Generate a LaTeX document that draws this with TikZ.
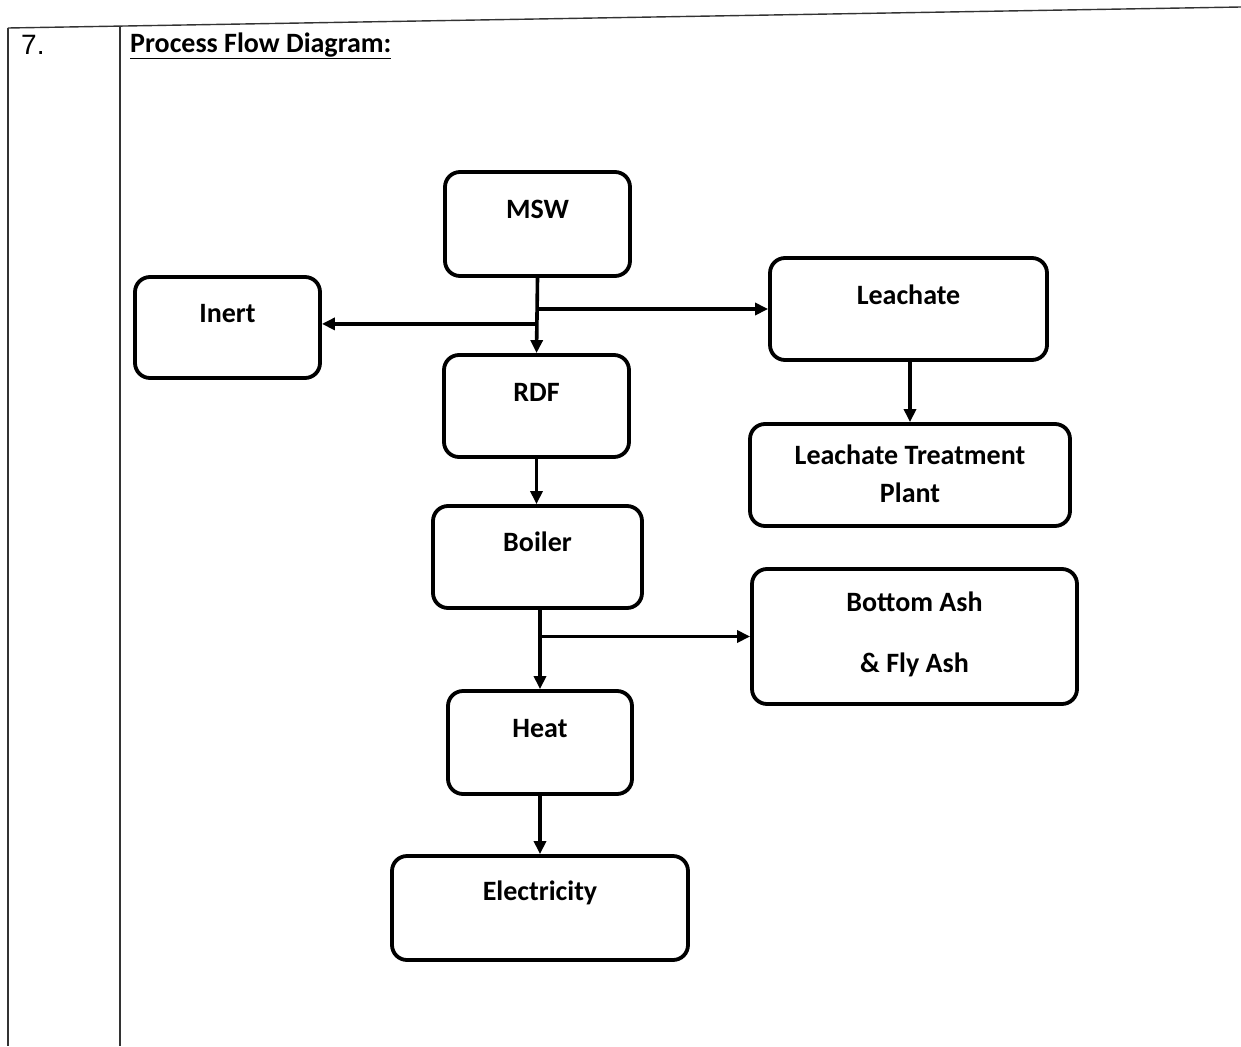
\documentclass[tikz,border=0pt]{standalone}
\usepackage{fontspec}
\setmainfont{Carlito}
\newfontfamily\arialfont{Liberation Sans}
\usetikzlibrary{arrows.meta,calc}
\tikzset{
  pbox/.style={draw=black, line width=3.8pt, rounded corners=15pt, fill=white, inner sep=0pt},
  ptxt/.style={font=\fontsize{28}{33}\selectfont\bfseries, align=center, inner sep=0pt},
  parr/.style={line width=3.6pt, -{Triangle[length=13pt,width=12pt]}},
  frame/.style={line width=1.4pt, black!80},
}
\begin{document}
\begin{tikzpicture}[x=1pt,y=-1pt]
\useasboundingbox (0,0) rectangle (1241,1046);
% table frame
\draw[frame] (8,28) -- (1241,7);
\draw[frame] (8,28) -- (8,1046);
\draw[frame] (120,26) -- (120,1046);
\node[font=\arialfont\fontsize{28}{33}\selectfont, anchor=west, inner sep=0pt] (num) at (21,45) {7.};
\node[font=\fontsize{28}{33}\selectfont\bfseries, anchor=west, inner sep=0pt] (title) at (130,46) {\underline{Process Flow Diagram:}};
% boxes
\node[pbox, minimum width=185, minimum height=104] (msw) at (537.5,224) {};
\node[pbox, minimum width=185, minimum height=101] (inert) at (227.5,327.5) {};
\node[pbox, minimum width=277, minimum height=102] (leach) at (908.5,309) {};
\node[pbox, minimum width=185, minimum height=102] (rdf) at (536.5,406) {};
\node[pbox, minimum width=320, minimum height=102] (ltp) at (910,475) {};
\node[pbox, minimum width=209, minimum height=102] (boiler) at (537.5,557) {};
\node[pbox, minimum width=325, minimum height=135] (ash) at (914.5,636.5) {};
\node[pbox, minimum width=184, minimum height=103] (heat) at (540,742.5) {};
\node[pbox, minimum width=296, minimum height=104] (elec) at (540,908) {};
% texts
\node[ptxt] (tmsw) at ([yshift=-39pt]msw.north) {MSW};
\node[ptxt] (tinert) at ([yshift=-38pt]inert.north) {Inert};
\node[ptxt] (tleach) at ([yshift=-39pt]leach.north) {Leachate};
\node[ptxt] (trdf) at ([yshift=-39pt]rdf.north) {RDF};
\node[ptxt] (tltp1) at ([yshift=-33pt]ltp.north) {Leachate Treatment};
\node[ptxt] (tltp2) at ([yshift=-71pt]ltp.north) {Plant};
\node[ptxt] (tboiler) at ([yshift=-38pt]boiler.north) {Boiler};
\node[ptxt] (tash1) at ([yshift=-35pt]ash.north) {Bottom Ash};
\node[ptxt] (tash2) at ([yshift=-98pt]ash.north) {\& Fly Ash};
\node[ptxt] (theat) at ([yshift=-39pt]heat.north) {Heat};
\node[ptxt] (telec) at ([yshift=-39pt]elec.north) {Electricity};
% connectors
\coordinate (j1) at ($(msw.south)+(0,46)$);
\draw[parr] (msw.south) -- (rdf.north);
\draw[parr] (j1) -- (j1 -| inert.east);
\draw[parr] (msw.south |- leach.west) -- (leach.west);
\draw[parr] (leach.south -| ltp.north) -- (ltp.north);
\draw[parr] (rdf.south) -- (rdf.south |- boiler.north);
\draw[parr] (boiler.south -| heat.north) -- (heat.north);
\draw[parr] (heat.north |- ash.west) -- (ash.west);
\draw[parr] (heat.south) -- (heat.south |- elec.north);
\end{tikzpicture}
\end{document}
